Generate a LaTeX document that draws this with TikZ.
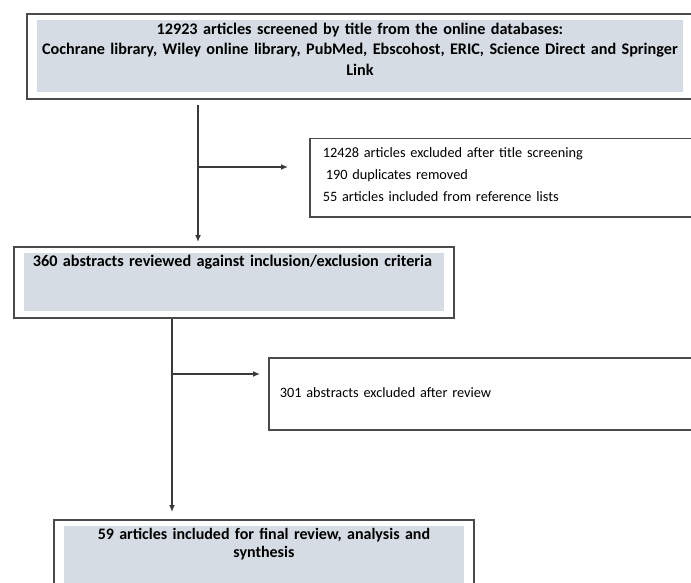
\documentclass[tikz,border=0pt]{standalone}
\usepackage{fontspec}
\setmainfont{Carlito}
\usetikzlibrary{calc,arrows.meta}

\definecolor{boxfill}{HTML}{D5DCE4}
\definecolor{framegray}{HTML}{4A4A4A}
\definecolor{linegray}{HTML}{3A3A3A}

\tikzset{
    stage/.style={draw=framegray, line width=1.8pt, fill=white, anchor=north west,
        font=\bfseries\fontsize{16.2}{20.5}\selectfont,
        path picture={\fill[boxfill]
            ([shift={(10pt,-6pt)}]path picture bounding box.north west) rectangle
            ([shift={(-10pt,7pt)}]path picture bounding box.south east);}},
    excl/.style={draw=framegray, line width=1.5pt, anchor=north west, align=left,
        font=\fontsize{14.3}{22}\selectfont},
}

\begin{document}
\begin{tikzpicture}[x=1pt, y=-1pt, >={Latex[length=7pt,width=6pt]}]
    \useasboundingbox (0,0) rectangle (691,583);
    \clip (0,0) rectangle (691,583);

    \node[stage, align=center, text width=640pt, inner xsep=13pt, inner ysep=6pt,
          text height=14.5pt, text depth=58.5pt] (screen) at (26,13)
        {12923 articles screened by title from the online databases:\\
         Cochrane library, Wiley online library, PubMed, Ebscohost, ERIC, Science Direct and Springer\\
         Link};

    \node[excl, text width=364pt, inner xsep=13pt, inner ysep=4pt,
          text height=15pt, text depth=55pt] (removed) at (309,138)
        {12428 articles excluded after title screening\\
         \hspace*{3pt}190 duplicates removed\\
         55 articles included from reference lists};

    \node[stage, align=left, text width=402pt, inner xsep=19pt, inner ysep=6pt,
          text height=14pt, text depth=45pt] (abstracts) at (13,246)
        {360 abstracts reviewed against inclusion/exclusion criteria};

    \node[excl, text width=408pt, inner xsep=11pt, inner ysep=4pt,
          text height=36pt, text depth=28pt] (excluded) at (268,357)
        {301 abstracts excluded after review};

    \node[stage, align=center, text width=380pt, inner xsep=20pt, inner ysep=6pt,
          text height=14pt, text depth=45pt, font=\bfseries\fontsize{16}{18}\selectfont] (final) at (53,519)
        {59 articles included for final review, analysis and\\ synthesis};

    \coordinate (split1) at (198,167);
    \coordinate (split2) at (172,374);

    \begin{scope}[draw=linegray, line width=1.5pt]
        \draw[->, shorten <=5pt, shorten >=4pt] (screen.south -| split1) -- (abstracts.north -| split1);
        \draw[->, shorten >=21pt] (split1) -- (split1 -| removed.west);
        \draw[->, shorten >=7pt] (abstracts.south -| split2) -- (final.north -| split2);
        \draw[->, shorten >=8pt] (split2) -- (split2 -| excluded.west);
    \end{scope}
\end{tikzpicture}
\end{document}
